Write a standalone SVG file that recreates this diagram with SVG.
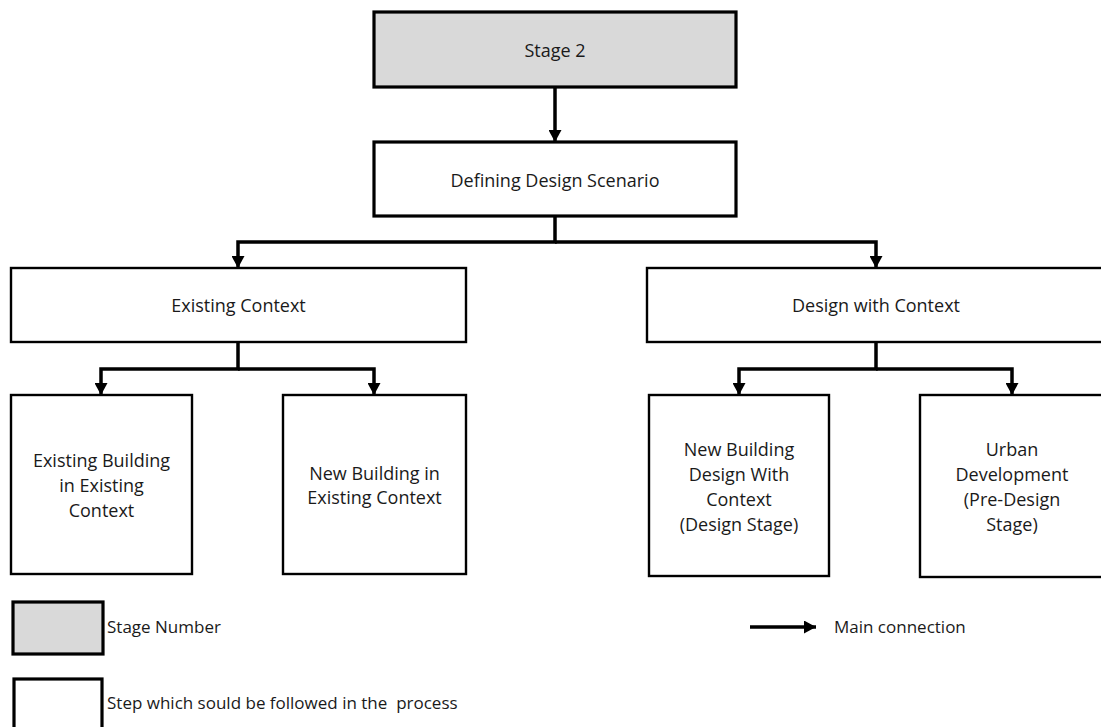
<svg xmlns="http://www.w3.org/2000/svg" width="1101" height="727" viewBox="0 0 1101 727">
<style>
text{font-family:"Open Sans","Liberation Sans",sans-serif;font-size:18px;fill:#1a1a1a;}
.c{text-anchor:middle;}
.lg{font-size:17px;}
.box{fill:#fff;stroke:#000;stroke-width:2.4;}
.top{stroke-width:3.2;}
.stage{fill:#d9d9d9;stroke:#000;stroke-width:3.2;}
.con{fill:none;stroke:#000;stroke-width:3.5;stroke-linejoin:miter;}
</style>
<defs>
<marker id="ah" markerUnits="userSpaceOnUse" markerWidth="13" markerHeight="13" viewBox="0 0 13 13" refX="12" refY="6.5" orient="auto">
<path d="M0,0 L12,6.5 L0,13 Z" fill="#000"/>
</marker>
</defs>
<rect width="1101" height="727" fill="#fff"/>
<g id="connectors">
<path class="con" d="M555 87 V142" marker-end="url(#ah)"/>
<path class="con" d="M555 216 V242 H238 V268" marker-end="url(#ah)"/>
<path class="con" d="M555 242 H876 V268" marker-end="url(#ah)"/>
<path class="con" d="M238 342 V369 H101 V395" marker-end="url(#ah)"/>
<path class="con" d="M238 369 H374 V395" marker-end="url(#ah)"/>
<path class="con" d="M876 342 V369 H739 V395" marker-end="url(#ah)"/>
<path class="con" d="M876 369 H1012 V395" marker-end="url(#ah)"/>
</g>
<g id="stage2">
<rect class="stage" x="374" y="12" width="362" height="75"/>
<text class="c" x="555" y="57">Stage 2</text>
</g>
<g id="defining">
<rect class="box top" x="374" y="142" width="362" height="74"/>
<text class="c" x="555" y="187">Defining Design Scenario</text>
</g>
<g id="existing-context">
<rect class="box" x="11" y="268" width="455" height="74"/>
<text class="c" x="238.5" y="312">Existing Context</text>
</g>
<g id="design-with-context">
<rect class="box" x="647" y="268" width="458" height="74"/>
<text class="c" x="876" y="312">Design with Context</text>
</g>
<g id="existing-building">
<rect class="box" x="11" y="395" width="181" height="179"/>
<text class="c" x="101.5" y="467">Existing Building</text>
<text class="c" x="101.5" y="492">in Existing</text>
<text class="c" x="101.5" y="517">Context</text>
</g>
<g id="new-building-existing">
<rect class="box" x="283" y="395" width="183" height="179"/>
<text class="c" x="374.5" y="480">New Building in</text>
<text class="c" x="374.5" y="504">Existing Context</text>
</g>
<g id="new-building-design">
<rect class="box" x="649" y="395" width="180" height="181"/>
<text class="c" x="739" y="456">New Building</text>
<text class="c" x="739" y="481">Design With</text>
<text class="c" x="739" y="506">Context</text>
<text class="c" x="739" y="531">(Design Stage)</text>
</g>
<g id="urban-development">
<rect class="box" x="920" y="395" width="184" height="182"/>
<text class="c" x="1012" y="456">Urban</text>
<text class="c" x="1012" y="481">Development</text>
<text class="c" x="1012" y="506">(Pre-Design</text>
<text class="c" x="1012" y="531">Stage)</text>
</g>
<g id="legend">
<rect class="stage" x="13" y="602" width="90" height="52"/>
<text class="lg" x="107" y="633">Stage Number</text>
<rect class="box top" x="14" y="679" width="88" height="56"/>
<text class="lg" x="107" y="709" xml:space="preserve">Step which sould be followed in the  process</text>
<path class="con" d="M750 627 H816" marker-end="url(#ah)"/>
<text class="lg" x="834" y="633">Main connection</text>
</g>
</svg>
